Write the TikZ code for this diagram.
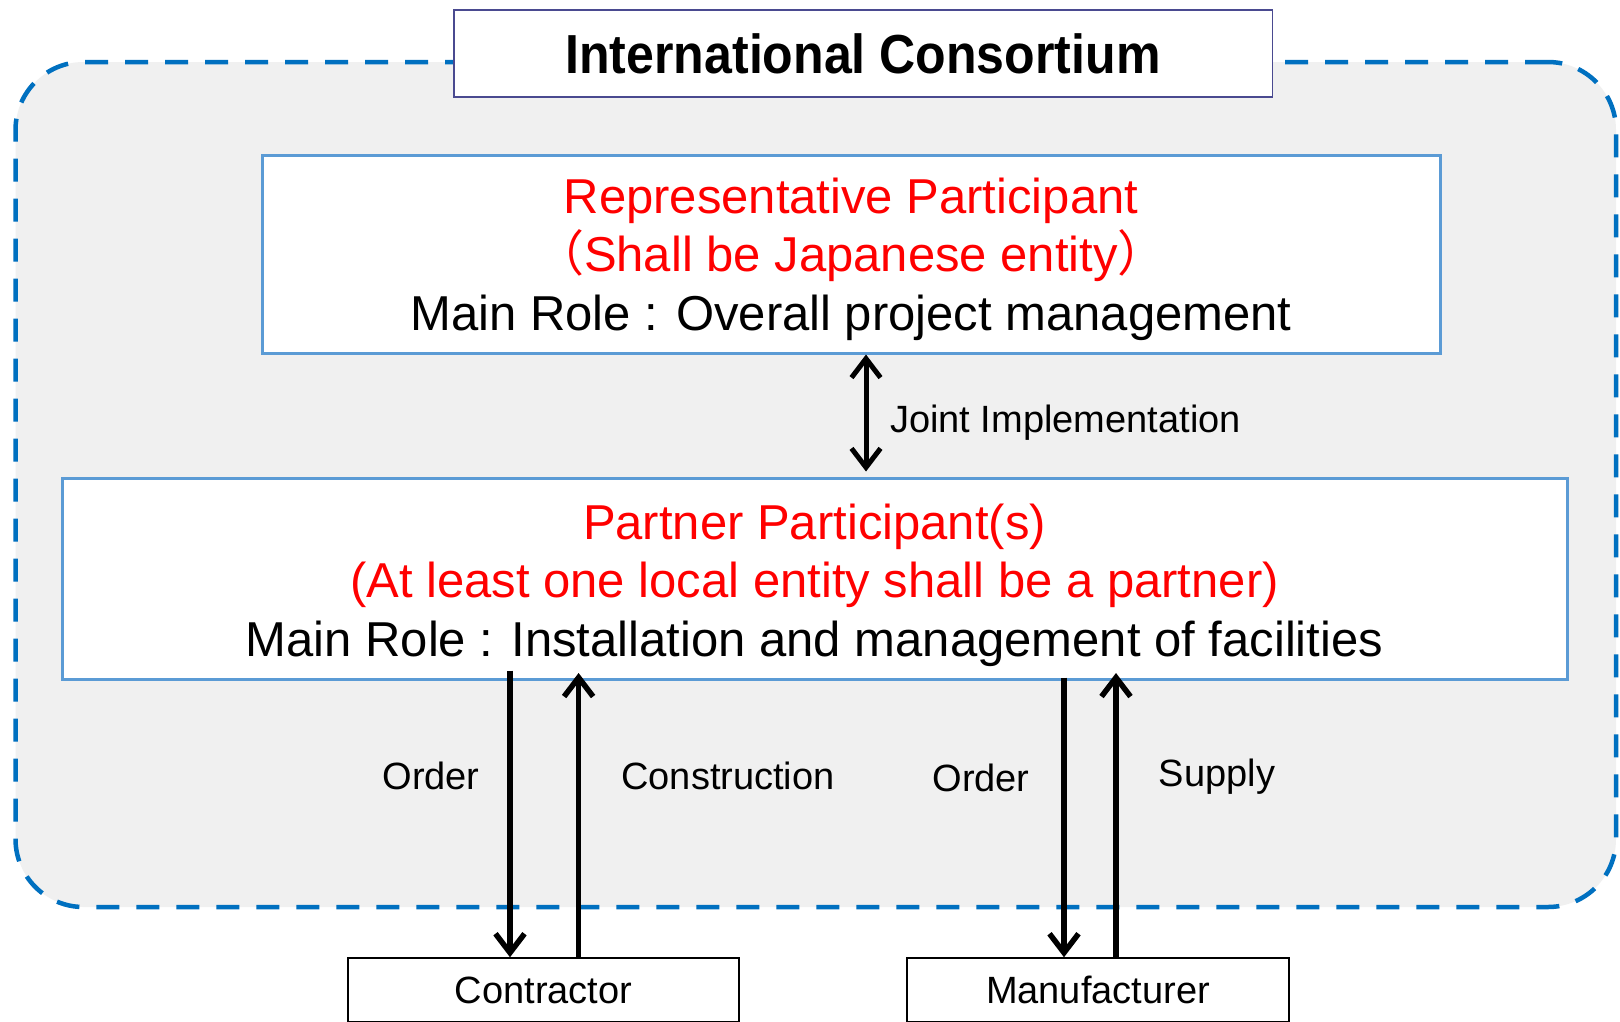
\documentclass[tikz,border=0pt]{standalone}
\usepackage{fontspec}
\setmainfont{Liberation Sans}
\newfontfamily\cjk{Noto Sans CJK SC}
\newfontfamily\titlefont[FakeStretch=0.91]{Liberation Sans Bold}
\usetikzlibrary{arrows.meta}
\definecolor{dashblue}{HTML}{0070C0}
\definecolor{boxblue}{HTML}{5B9BD5}
\definecolor{titleborder}{HTML}{4A4A90}
\definecolor{regionfill}{HTML}{F0F0F0}
\definecolor{redtext}{HTML}{FF0000}
\begin{document}
\begin{tikzpicture}[x=1pt,y=-1pt,
  region/.style={draw=dashblue, line width=4.5pt, dash pattern=on 23pt off 17pt,
    fill=regionfill, rounded corners=68pt, inner sep=0pt},
  titlebox/.style={draw=titleborder, line width=1.5pt, fill=white, inner sep=0pt,
    font=\fontsize{55}{60}\titlefont},
  rolebox/.style={draw=boxblue, line width=3pt, fill=white, align=center, inner sep=0pt,
    font=\fontsize{49}{58.4}\selectfont},
  extbox/.style={draw=black, line width=1.5pt, fill=white, inner sep=0pt,
    font=\fontsize{38}{44}\selectfont},
  lbl/.style={inner sep=0pt, font=\fontsize{38}{44}\selectfont},
  flow/.style={line width=5.5pt, -{Straight Barb[length=19pt,width=29pt]}},
  both/.style={line width=5pt, {Straight Barb[length=19pt,width=29pt]}-{Straight Barb[length=19pt,width=29pt]}}
]
\clip (0,0) rectangle (1620,1021);
\fill[white] (0,0) rectangle (1620,1021);

\node[region, minimum width=1600.5pt, minimum height=845pt] (consortium) at (815.75,484.5) {};
\node[titlebox, minimum width=818.5pt, minimum height=87pt] (title) at (863,53.5) {International Consortium};

\node[rolebox, minimum width=1178pt, minimum height=198pt] (rep) at (851,254)
  {\rule{0pt}{46pt}\textcolor{redtext}{Representative Participant}\\
   \textcolor{redtext}{{\cjk （}Shall be Japanese entity{\cjk ）}}\\
   Main Role : Overall project management};

\node[rolebox, minimum width=1505pt, minimum height=201pt] (partner) at (814.5,578.5)
  {\rule{0pt}{49pt}\textcolor{redtext}{Partner Participant(s)}\\
   \textcolor{redtext}{(At least one local entity shall be a partner)}\\
   Main Role : Installation and management of facilities};

\node[extbox, minimum width=391pt, minimum height=64pt] (contractor) at (543.5,990) {Contractor};
\node[extbox, minimum width=382pt, minimum height=64pt] (manufacturer) at (1098,990) {Manufacturer};

\coordinate (xj) at (866,0);
\coordinate (xo1) at (510,0);
\coordinate (xc) at (578.6,0);
\coordinate (xo2) at (1064,0);
\coordinate (xs) at (1116,0);

\draw[both] (rep.south -| xj) -- ([yshift=5pt]partner.north -| xj);
\draw[flow] (partner.south -| xo1) ++(0,-10) -- (contractor.north -| xo1);
\draw[flow] (contractor.north -| xc) -- ([yshift=7.5pt]partner.south -| xc);
\draw[flow] (partner.south -| xo2) ++(0,-3) -- (manufacturer.north -| xo2);
\draw[flow] (manufacturer.north -| xs) -- ([yshift=7.5pt]partner.south -| xs);

\node[lbl, anchor=base west] (jointlbl) at (890,432) {Joint Implementation};
\node[lbl, anchor=base] (order1) at (431,789) {Order};
\node[lbl, anchor=base] (construction) at (728,789) {Construction};
\node[lbl, anchor=base] (order2) at (981,791) {Order};
\node[lbl, anchor=base] (supply) at (1217,786) {Supply};
\end{tikzpicture}
\end{document}
